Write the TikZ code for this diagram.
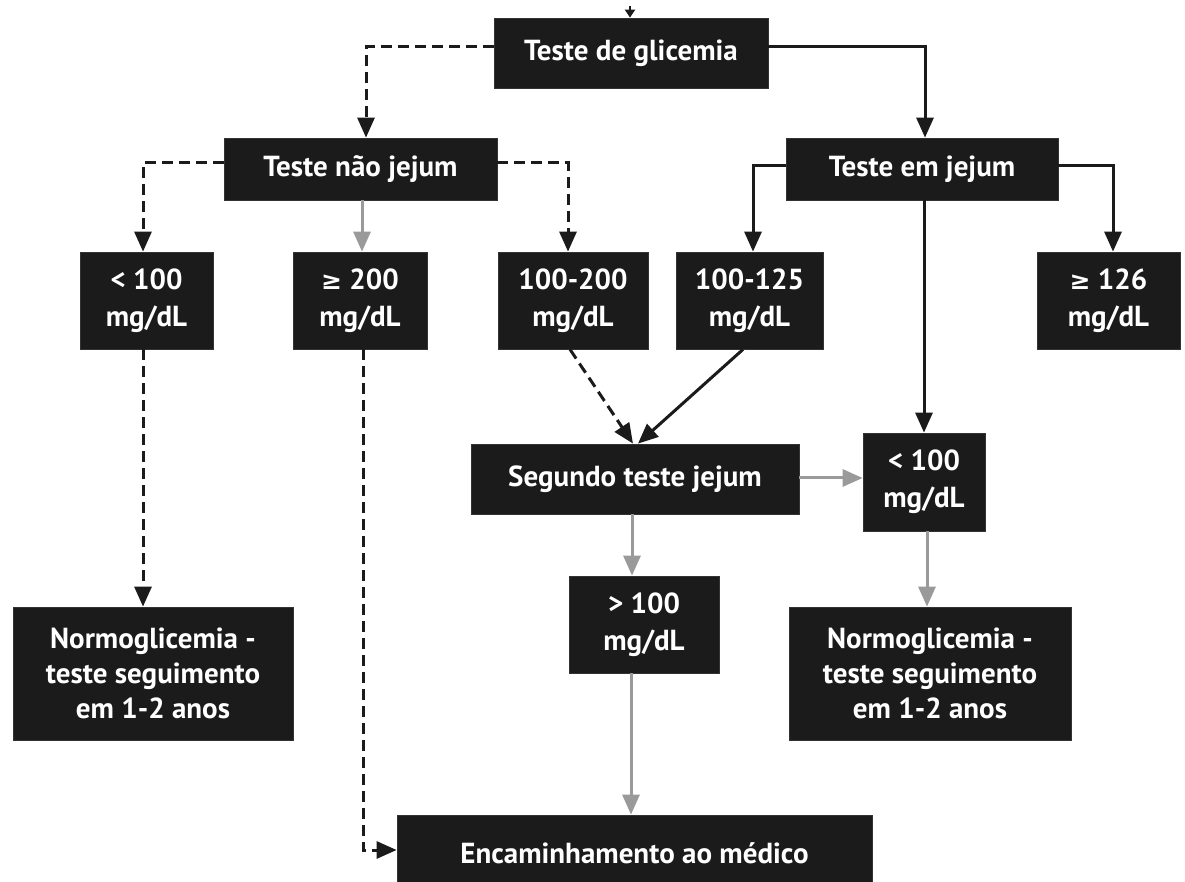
\documentclass[tikz,border=0pt]{standalone}
\usepackage{fontspec}
\setmainfont{PT Sans}
\newfontfamily\symf{DejaVu Sans}
\usetikzlibrary{arrows.meta}
\definecolor{boxfill}{HTML}{1B1B1B}
\definecolor{lightarrow}{HTML}{9A9A9A}
\newcommand{\gesym}{{\symf\fontsize{12.5pt}{12.5pt}\selectfont ≥}}
\begin{document}
\begin{tikzpicture}[x=0.5pt,y=-0.5pt,
  box/.style={fill=boxfill, draw=black!80, line width=0.4pt, text=white, align=center,
    font=\bfseries\fontsize{14.5pt}{18.5pt}\selectfont, inner sep=0pt},
  tip/.style={-{Triangle[width=8.5pt,length=10pt]}},
  solidarr/.style={tip, draw=boxfill, line width=1.5pt},
  dasharr/.style={tip, draw=boxfill, line width=1.5pt, dash pattern=on 5.5pt off 3pt},
  grayarr/.style={tip, draw=lightarrow, line width=1.5pt},
]
\path[use as bounding box, clip] (0,0) rectangle (1185,882);
\fill[white] (0,0) rectangle (1185,882);

% nodes
\node[box, minimum width=137pt, minimum height=35pt] (glic) at (631,53) {Teste de glicemia};
\node[box, minimum width=136.5pt, minimum height=31pt] (naoj) at (360.5,169) {Teste não jejum};
\node[box, minimum width=136pt, minimum height=31pt] (emj) at (922,169) {Teste em jejum};

\node[box, minimum width=66.5pt, minimum height=48.5pt] (lt100) at (146.5,300.5) {< 100\\mg/dL};
\node[box, minimum width=67pt, minimum height=48.5pt] (ge200) at (360,300.5) {\gesym\ 200\\mg/dL};
\node[box, minimum width=75pt, minimum height=48.5pt] (r100200) at (573,300.5) {100-200\\mg/dL};
\node[box, minimum width=73.5pt, minimum height=48.5pt] (r100125) at (749.5,300.5) {100-125\\mg/dL};
\node[box, minimum width=71.5pt, minimum height=48.5pt] (ge126) at (1108.5,300.5) {\gesym\ 126\\mg/dL};

\node[box, minimum width=164pt, minimum height=35pt] (seg) at (635,479) {Segundo teste jejum};
\node[box, minimum width=61pt, minimum height=49pt] (lt100r) at (924,482) {< 100\\mg/dL};

\node[box, minimum width=75pt, minimum height=48.5pt] (gt100) at (644,624.5) {> 100\\mg/dL};

\node[box, minimum width=140pt, minimum height=66.5pt, font=\bfseries\fontsize{14.5pt}{17.5pt}\selectfont] (normL) at (153,673.5) {Normoglicemia -\\teste seguimento\\em 1-2 anos};
\node[box, minimum width=141pt, minimum height=66.5pt, font=\bfseries\fontsize{14.5pt}{17.5pt}\selectfont] (normR) at (930,673.5) {Normoglicemia -\\teste seguimento\\em 1-2 anos};

\node[box, minimum width=237.5pt, minimum height=38pt] (enc) at (634.5,853) {Encaminhamento ao médico};

% connectors
\coordinate (topin) at (630,6);
\draw[solidarr, -{Triangle[width=5pt,length=4pt]}, line width=1pt] (topin) -- (glic.north -| 630,0);

\draw[dasharr] (glic.west |- 0,47) -| (naoj.north -| 366,0);
\draw[solidarr] (glic.east |- 0,47) -| (emj.north -| 925,0);

\draw[dasharr] (naoj.west |- 0,163) -| (lt100.north -| 143,0);
\draw[dasharr] (naoj.east |- 0,163) -| (r100200.north -| 568,0);
\draw[grayarr] (naoj.south -| 362,0) -- (ge200.north -| 362,0);

\draw[solidarr] (emj.west |- 0,166) -| (r100125.north -| 753,0);
\draw[solidarr] (emj.east |- 0,166) -| (ge126.north -| 1113,0);
\draw[solidarr] (emj.south -| 924,0) -- (lt100r.north -| 924,0);

\draw[dasharr] (r100200.south -| 570,0) -- (seg.north -| 633,0);
\draw[solidarr] (r100125.south -| 743,0) -- (seg.north -| 638,0);

\draw[grayarr] (seg.east |- 0,478) -- (lt100r.west |- 0,478);
\draw[grayarr] (seg.south -| 632,0) -- (gt100.north -| 632,0);
\draw[grayarr] (lt100r.south -| 927,0) -- (normR.north -| 927,0);
\draw[grayarr] (gt100.south -| 631,0) -- (enc.north -| 631,0);

\draw[dasharr] (ge200.south -| 363,0) |- (enc.west |- 0,850);
\draw[dasharr] (lt100.south -| 143,0) -- (normL.north -| 143,0);
\end{tikzpicture}
\end{document}
